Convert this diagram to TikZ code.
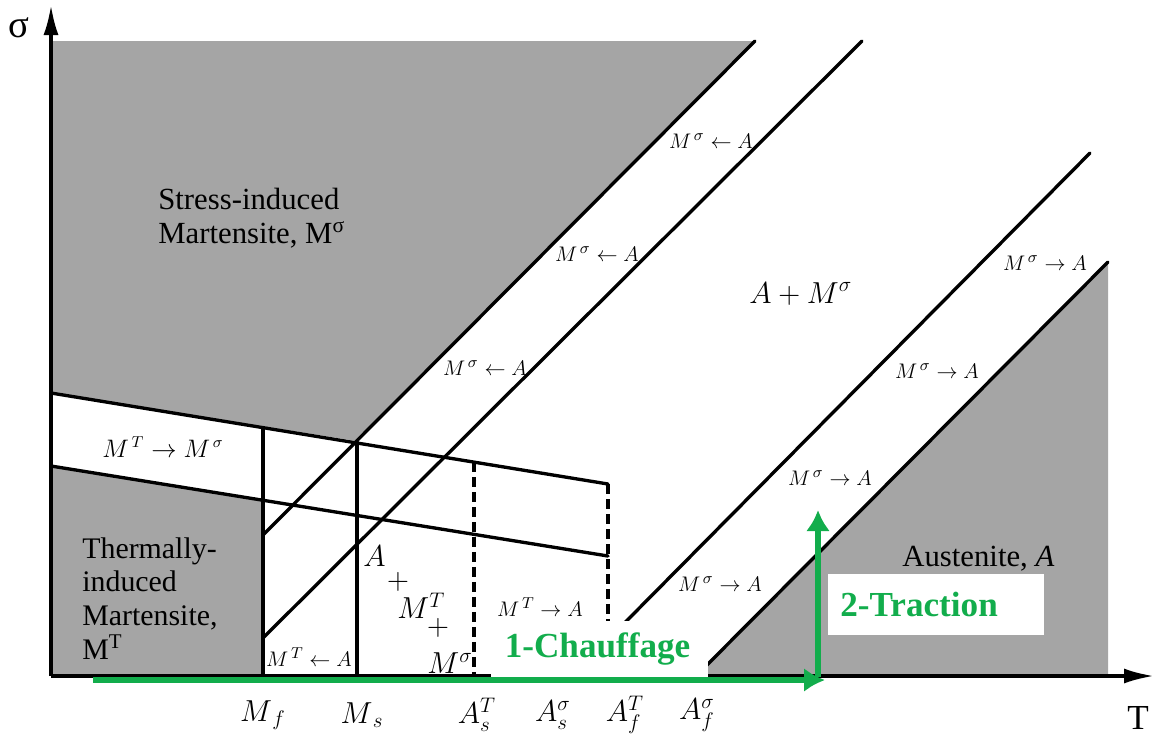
\documentclass[tikz,border=0pt]{standalone}
\usepackage{amsmath,amssymb}
\usepackage{fontspec}
\setmainfont{Liberation Serif}
\usepackage{tikz}
\usetikzlibrary{arrows.meta, positioning}
\definecolor{phasegray}{RGB}{165,165,165}
\definecolor{pathgreen}{RGB}{18,173,76}

\begin{document}
\begin{tikzpicture}[x=0.02cm, y=-0.02cm]
\tikzstyle{phase} = [fill=phasegray, draw=none]
\tikzstyle{boundary} = [line width=1.9pt, line cap=round]
\tikzstyle{limit} = [line width=1.9pt, dash pattern=on 0.2cm off 0.1cm]
\tikzstyle{axis} = [line width=1.9pt, -{Latex[length=0.6cm, width=0.3cm]}]
\tikzstyle{region} = [font=\fontsize{17.5}{19.5}\selectfont, align=left, inner sep=0pt]
\tikzstyle{trans} = [font=\fontsize{12.6}{14}\selectfont, inner sep=0pt]
\tikzstyle{temp} = [font=\fontsize{17.5}{19}\selectfont, inner sep=0pt]
\tikzstyle{loadpath} = [draw=pathgreen, line width=3.6pt, -{Latex[length=0.42cm, width=0.48cm]}]
\tikzstyle{stepbox} = [fill=white, text=pathgreen, font=\fontsize{20}{22}\selectfont\bfseries, anchor=north west, align=left, inner ysep=0pt]

\useasboundingbox (0,0) rectangle (1155,735);

\coordinate (O) at (51,676);
\coordinate (Mf) at (263,676);
\coordinate (Ms) at (357,676);
\coordinate (AsT) at (474,676);
\coordinate (Ass) at (572,676);
\coordinate (AfT) at (608,676);
\coordinate (Afs) at (696,676);

\fill[phase] (51,41) -- (755,41) -- (357,441) -- (51,393) -- cycle;
\fill[phase] (51,466) -- (263,500) -- (Mf) -- (O) -- cycle;
\fill[phase] (Afs) -- (1108,262) -- (1108,676) -- cycle;

\draw[boundary] (51,393) -- (608,484);
\draw[boundary] (51,466) -- (608,556);
\draw[boundary] (755,41) -- (263,535);
\draw[boundary] (862,41) -- (263,638);
\draw[boundary] (1090,153) -- (Ass);
\draw[boundary] (1108,262) -- (Afs);
\draw[boundary] (263,427.6) -- (Mf);
\draw[boundary] (357,442) -- (Ms);
\draw[limit] (474,462) -- (AsT);
\draw[limit] (608,484) -- (AfT);

\draw[axis] (O) -- (51,5);
\draw[axis] (O) -- (1154,676);
\node[temp, font=\fontsize{22}{24}\selectfont] (sig) at (19,28) {σ};
\node[temp, font=\fontsize{20}{22}\selectfont] (tem) at (1138,718) {T};

\foreach \p in {Mf,Ms,AsT,Ass,AfT,Afs}
  \fill (\p) ++(0,1.5) circle (2.3pt);

\node[temp] (lMf) at (263,715) {$M_{\,f}$};
\node[temp] (lMs) at (362,715) {$M_{\,s}$};
\node[temp] (lAsT) at (477,715) {$A_s^T$};
\node[temp] (lAss) at (553,715) {$A_s^\sigma$};
\node[temp] (lAfT) at (625,715) {$A_f^T$};
\node[temp] (lAfs) at (697,715) {$A_f^\sigma$};

\node[region, anchor=north west] (smart) at (158,188) {Stress-induced\\Martensite, M\textsuperscript{σ}};
\node[region, font=\fontsize{17}{19.2}\selectfont, anchor=north west] (tmart) at (82,537) {Thermally-\\induced\\Martensite,\\M\textsuperscript{T}};
\node[region, anchor=base west] (aust) at (902,566) {Austenite, \textit{A}};
\node[region, anchor=base west] (mix) at (749,303) {$A+M^\sigma$};

\node[region, anchor=base west] (mA) at (363,566) {$A$};
\node[region] (mp1) at (398,582) {$+$};
\node[region, anchor=base west] (mMT) at (397,618) {$M^T$};
\node[region] (mp2) at (438,628) {$+$};
\node[region, anchor=base west] (mMs) at (427,673) {$M^\sigma$};

\node[trans] (ms1) at (711,141) {$M^{\,\sigma}\leftarrow A$};
\node[trans] (ms2) at (597,254) {$M^{\,\sigma}\leftarrow A$};
\node[trans] (ms3) at (485,368) {$M^{\,\sigma}\leftarrow A$};
\node[trans] (sm1) at (1045,263) {$M^{\,\sigma}\rightarrow A$};
\node[trans] (sm2) at (937,371) {$M^{\,\sigma}\rightarrow A$};
\node[trans] (sm3) at (830,478) {$M^{\,\sigma}\rightarrow A$};
\node[trans] (sm4) at (720,584) {$M^{\,\sigma}\rightarrow A$};
\node[trans, font=\fontsize{13.5}{15}\selectfont] (ts) at (163,447) {$M^{\,T}\rightarrow M^{\,\sigma}$};
\node[trans] (ta) at (309,657) {$M^{\,T}\leftarrow A$};
\node[trans] (at) at (540,607) {$M^{\,T}\rightarrow A$};

\coordinate (start) at (93,680);
\coordinate (turn) at (818,680);
\coordinate (stop) at (818,510);
\draw[loadpath] (start) -- ([xshift=4]turn);
\draw[loadpath] ([yshift=2]turn) -- (stop);

\node[stepbox, minimum height=1.12cm, text width=3.8cm, inner xsep=0.27cm] (heat) at (491,621) {1-Chauffage};
\node[stepbox, minimum height=1.22cm, text width=3.84cm, inner xsep=0.24cm] (pull) at (828,574) {2-Traction};
\end{tikzpicture}
\end{document}
